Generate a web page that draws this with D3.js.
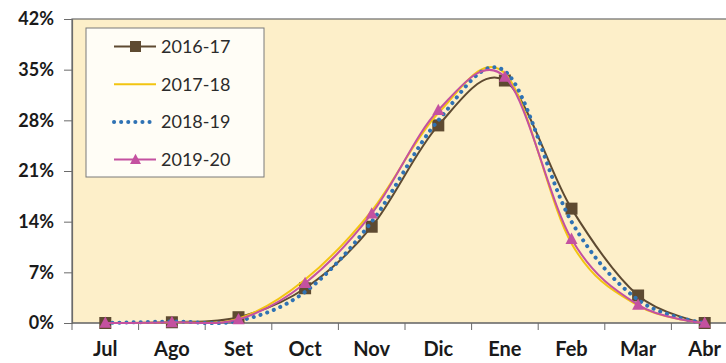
<!DOCTYPE html>
<html>
<head>
<meta charset="utf-8">
<script src="https://cdn.jsdelivr.net/npm/d3@7"></script>
<style>
  html, body { margin: 0; padding: 0; background: #ffffff; }
  svg { display: block; }
</style>
</head>
<body>
<svg id="chart" width="726" height="363"></svg>
<script>
// Monthly share of the season total (%), July through April
const months = ["Jul", "Ago", "Set", "Oct", "Nov", "Dic", "Ene", "Feb", "Mar", "Abr"];
const yTicks = [0, 7, 14, 21, 28, 35, 42];

const s2016 = [0.0, 0.1, 0.8, 4.8, 13.3, 27.3, 33.5, 15.8, 3.8, 0.0];
const s2017 = [0.0, 0.1, 0.6, 6.0, 15.5, 29.0, 34.5, 11.0, 2.4, 0.0];
const s2018 = [0.0, 0.2, 0.3, 4.3, 14.0, 28.0, 34.8, 14.0, 3.2, 0.0];
const s2019 = [0.0, 0.1, 0.5, 5.5, 15.1, 29.4, 34.0, 11.6, 2.5, 0.0];

const series = [
  { name: "2016-17", values: s2016, color: "#5e4a31", marker: "square", dash: null, width: 2 },
  { name: "2017-18", values: s2017, color: "#f2c411", marker: null, dash: null, width: 2 },
  { name: "2018-19", values: s2018, color: "#2f72b4", marker: null, dash: "0.1 7", width: 4, cap: "round" },
  { name: "2019-20", values: s2019, color: "#c451a0", marker: "triangle", dash: null, width: 2 }
];

const svg = d3.select("#chart");
const plot = { left: 72, top: 19, right: 738, bottom: 323 };
const labelFont = "Lato, 'Open Sans', sans-serif";

const x = d3.scaleBand().domain(months).range([plot.left, plot.right]);
const y = d3.scaleLinear().domain([0, 42]).range([plot.bottom, plot.top]);

// plot area background
svg.append("rect")
  .attr("x", plot.left).attr("y", plot.top)
  .attr("width", plot.right - plot.left).attr("height", plot.bottom - plot.top)
  .attr("fill", "#fdefc9")
  .attr("stroke", "#6b6b6b").attr("stroke-width", 1.2);

// y axis
const yAxis = d3.axisLeft(y).tickValues(yTicks).tickSize(8).tickPadding(10)
  .tickFormat(d => d + "%");
const gy = svg.append("g").attr("transform", `translate(${plot.left},0)`).call(yAxis);
gy.select(".domain").attr("stroke", "#6b6b6b").attr("stroke-width", 1.2);
gy.selectAll(".tick line").attr("stroke", "#6b6b6b");
gy.selectAll(".tick text")
  .attr("font-family", labelFont)
  .attr("font-weight", "bold").attr("font-size", 18).attr("fill", "#1a1a1a");

// x axis with ticks on category boundaries
const gx = svg.append("g").attr("transform", `translate(0,${plot.bottom})`);
gx.append("line").attr("x1", plot.left).attr("x2", plot.right)
  .attr("stroke", "#6b6b6b").attr("stroke-width", 1.2);
gx.selectAll("line.tk").data(months).enter().append("line").attr("class", "tk")
  .attr("x1", d => x(d) + x.bandwidth()).attr("x2", d => x(d) + x.bandwidth())
  .attr("y1", 0).attr("y2", 7).attr("stroke", "#6b6b6b");
gx.append("line").attr("x1", plot.left).attr("x2", plot.left).attr("y1", 0).attr("y2", 7).attr("stroke", "#6b6b6b");
gx.selectAll("text").data(months).enter().append("text")
  .attr("x", d => x(d) + x.bandwidth() / 2).attr("y", 33)
  .attr("text-anchor", "middle")
  .attr("font-family", labelFont)
  .attr("font-weight", "bold").attr("font-size", 20).attr("fill", "#1a1a1a")
  .text(d => d);

const cx = (d, i) => x(months[i]) + x.bandwidth() / 2;
const line = d3.line().x(cx).y(d => y(d)).curve(d3.curveCatmullRom.alpha(0));

function drawMarker(g, type, color, px, py, s) {
  if (type === "square") {
    g.append("rect").attr("x", px - s / 2).attr("y", py - s / 2)
      .attr("width", s).attr("height", s).attr("fill", color);
  } else if (type === "triangle") {
    const h = s * 0.9;
    g.append("path")
      .attr("d", `M${px},${py - h * 0.6}L${px + s / 2},${py + h * 0.45}L${px - s / 2},${py + h * 0.45}Z`)
      .attr("fill", color);
  }
}

series.forEach(s => {
  const g = svg.append("g");
  g.append("path").datum(s.values).attr("d", line)
    .attr("fill", "none").attr("stroke", s.color)
    .attr("stroke-width", s.width)
    .attr("stroke-dasharray", s.dash)
    .attr("stroke-linecap", s.cap || "butt");
  if (s.marker) {
    s.values.forEach((v, i) => drawMarker(g, s.marker, s.color, cx(v, i), y(v), 12));
  }
});

// legend
const lg = svg.append("g");
lg.append("rect").attr("x", 86).attr("y", 28).attr("width", 178).attr("height", 149)
  .attr("fill", "#fffdf6").attr("stroke", "#7a7a7a").attr("stroke-width", 1);
series.forEach((s, i) => {
  const ly = 46.5 + i * 37.7;
  lg.append("line").attr("x1", 114).attr("x2", 156).attr("y1", ly).attr("y2", ly)
    .attr("stroke", s.color).attr("stroke-width", s.width)
    .attr("stroke-dasharray", s.dash).attr("stroke-linecap", s.cap || "butt");
  if (s.marker) drawMarker(lg, s.marker, s.color, 135.5, ly, 11);
  lg.append("text").attr("x", 161).attr("y", ly + 6.5)
    .attr("font-family", labelFont)
    .attr("font-size", 18).attr("fill", "#2b2b2b").text(s.name);
});
</script>
</body>
</html>
